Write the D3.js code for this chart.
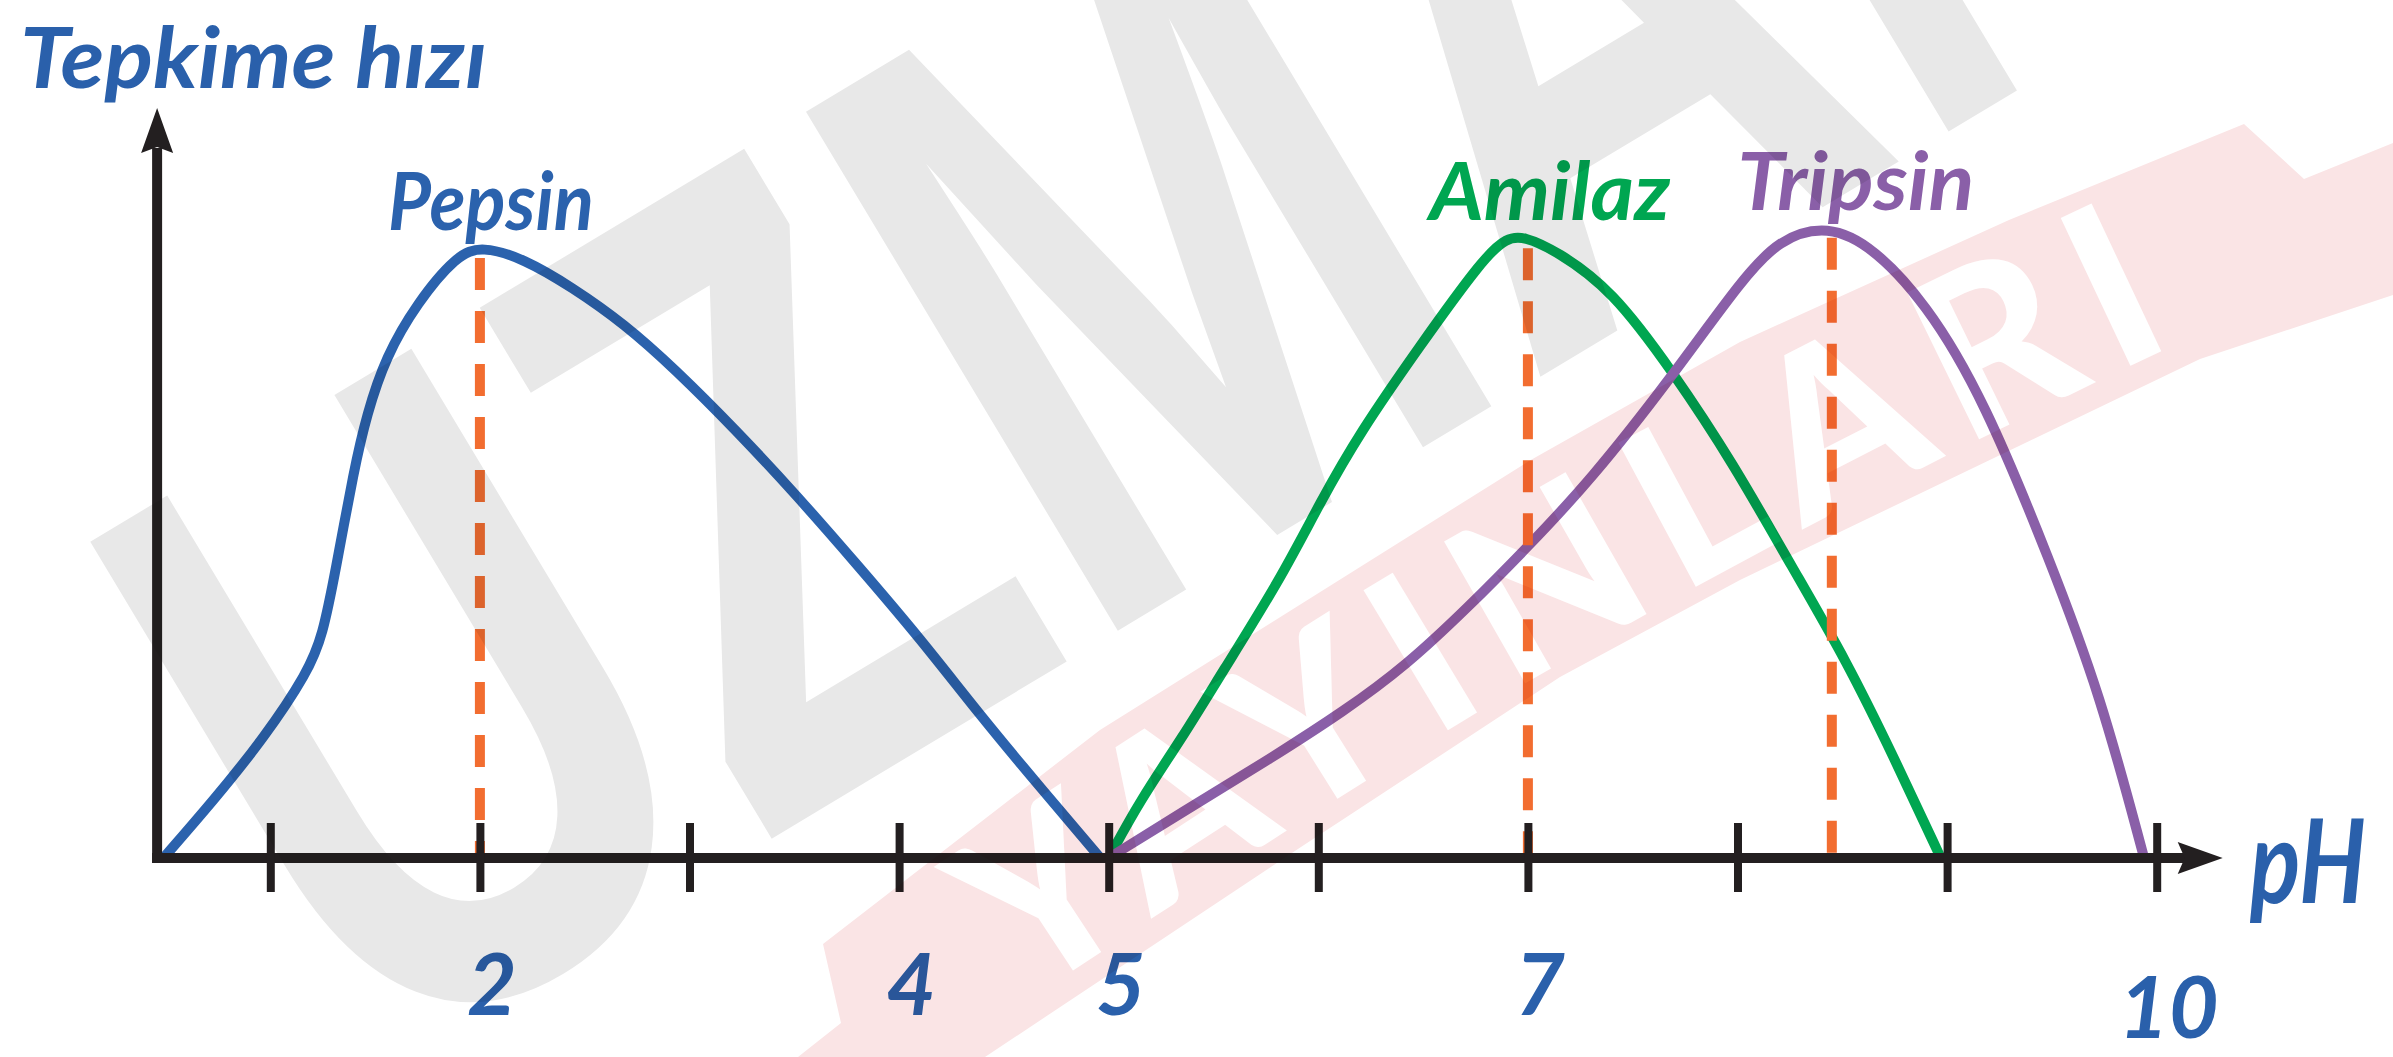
<!DOCTYPE html>
<html><head><meta charset="utf-8">
<script src="https://cdn.jsdelivr.net/npm/d3@7/dist/d3.min.js"></script>
<style>html,body{margin:0;padding:0;background:#fff;overflow:hidden}</style>
</head><body>
<svg id="chart" width="2393" height="1057"></svg>
<script>
// ---------- data ----------
const phTicks = [1, 2, 3, 4, 5, 6, 7, 8, 9, 10];
const phLabelValues = [2, 4, 5, 7, 10];
const phLabels = ["2", "4", "5", "7", "10"];
const yTitle = "Tepkime hızı";
const xTitle = "pH";
const enzymeNames = ["Pepsin", "Amilaz", "Tripsin"];
const optimumPH = [2, 7, 8.45];

const pepsinPH   = [0.49, 0.73, 0.97, 1.18, 1.25, 1.31, 1.40, 1.46, 1.55, 1.70, 1.89, 2.01, 2.21, 2.44, 2.69, 2.93, 3.22, 3.51, 3.80, 4.10, 4.39, 4.68, 4.96];
const pepsinRate = [0,    7.7,  16,   24.8, 29.7, 38.1, 51.9, 59.1, 66.8, 74,   80.4, 81.6, 79.9, 76.1, 71.2, 65.2, 57.1, 48.4, 39.1, 29.3, 18.9, 9.2,  0];

const amilazPH   = [5.00, 5.15, 5.35, 5.54, 5.82, 6.01, 6.20, 6.48, 6.79, 6.90, 6.98, 7.14, 7.40, 7.69, 7.98, 8.26, 8.52, 8.75, 8.97];
const amilazRate = [0,    7.7,  16,   24.7, 37.2, 47.5, 56.8, 68.1, 80.1, 82.7, 82.9, 80.9, 75.8, 64.9, 52.6, 38.8, 26.3, 13.2, 0];

const tripsinPH   = [5.00, 5.35, 5.74, 6.13, 6.42, 6.71, 7.00, 7.30, 7.68, 8.03, 8.20, 8.40, 8.61, 8.90, 9.18, 9.49, 9.73, 9.94];
const tripsinRate = [0,    6.1,  12.7, 19.7, 25.7, 33.3, 41.5, 50.4, 63.9, 77.5, 82.4, 84.3, 82.4, 74.1, 60.9, 39.7, 21.9, 0];

const watermarkBig = "UZMAN";
const watermarkBand = "YAYINLARI";

// ---------- drawing ----------
const svg = d3.select("#chart");
const x = d3.scaleLinear().domain([0, 10]).range([60.7, 2156.7]);
const y = d3.scaleLinear().domain([0, 100]).range([858, 108]);
const ink = "#231f20";
const blue = "#2a60ab";
const colors = ["#2b62ad", "#00a651", "#8a5fa8"];
const orange = "#f26d30";
const font = "Lato, 'Open Sans', sans-serif";

const series = [
  { name: enzymeNames[0], pts: d3.zip(pepsinPH, pepsinRate) },
  { name: enzymeNames[1], pts: d3.zip(amilazPH, amilazRate) },
  { name: enzymeNames[2], pts: d3.zip(tripsinPH, tripsinRate) }
];

const x0 = x(0.46), y0 = y(0);

// curves
const line = d3.line().x(d => x(d[0])).y(d => y(d[1])).curve(d3.curveBasis);
svg.append("g").selectAll("path").data(series).join("path")
  .attr("d", d => line(d.pts))
  .attr("fill", "none")
  .attr("stroke", (d, i) => colors[i])
  .attr("stroke-width", 10)
  .attr("stroke-linecap", "round")
  .attr("stroke-linejoin", "round");

// optimum dashed lines
svg.append("g").selectAll("line").data(series).join("line")
  .attr("x1", (d, i) => x(optimumPH[i]))
  .attr("x2", (d, i) => x(optimumPH[i]))
  .attr("y1", d => y(d3.max(d.pts, p => p[1])) + 12)
  .attr("y2", y0 - 4)
  .attr("stroke", orange)
  .attr("stroke-width", 10)
  .attr("stroke-dasharray", "32 21");

// enzyme labels
const labelDx = [11, 22, 24];
svg.append("g").selectAll("text").data(series).join("text")
  .attr("x", (d, i) => x(optimumPH[i]) + labelDx[i])
  .attr("y", d => y(d3.max(d.pts, p => p[1])) - 16)
  .attr("text-anchor", "middle")
  .attr("font-family", font)
  .attr("font-style", "italic")
  .attr("font-weight", 700)
  .attr("font-size", 80)
  .attr("fill", (d, i) => colors[i])
  .attr("textLength", (d, i) => [206, 241, 237][i])
  .attr("lengthAdjust", "spacingAndGlyphs")
  .text(d => d.name);

// axes
const axisG = svg.append("g");
axisG.append("line")
  .attr("x1", x0).attr("x2", x0)
  .attr("y1", y0 + 5).attr("y2", y(100) + 40)
  .attr("stroke", ink).attr("stroke-width", 10);
axisG.append("path")
  .attr("d", `M${x0},${y(100)} L${x0 + 16},${y(100) + 45} L${x0},${y(100) + 39} L${x0 - 16},${y(100) + 45} Z`)
  .attr("fill", ink);
const xEnd = x(10) + 66;
axisG.append("line")
  .attr("x1", x0 - 5).attr("x2", xEnd - 36)
  .attr("y1", y0).attr("y2", y0)
  .attr("stroke", ink).attr("stroke-width", 10);
axisG.append("path")
  .attr("d", `M${xEnd},${y0} L${xEnd - 45},${y0 - 16} L${xEnd - 38},${y0} L${xEnd - 45},${y0 + 16} Z`)
  .attr("fill", ink);

const xAxis = d3.axisBottom(x).tickValues(phTicks).tickSize(0).tickFormat("");
const tickG = svg.append("g").attr("transform", `translate(0,${y0})`).call(xAxis);
tickG.select(".domain").remove();
tickG.selectAll(".tick line")
  .attr("y1", -35).attr("y2", 34)
  .attr("stroke", ink).attr("stroke-width", 8);

// tick labels
svg.append("g").selectAll("text").data(phLabelValues).join("text")
  .attr("x", d => x(d) + 12)
  .attr("y", (d, i) => y0 + (i === phLabelValues.length - 1 ? 180 : 157))
  .attr("text-anchor", "middle")
  .attr("font-family", font)
  .attr("font-style", "italic")
  .attr("font-weight", 700)
  .attr("font-size", 86)
  .attr("fill", blue)
  .text((d, i) => phLabels[i]);

// axis titles
svg.append("text")
  .attr("x", 20).attr("y", 88)
  .attr("font-family", font).attr("font-style", "italic").attr("font-weight", 700)
  .attr("font-size", 84).attr("fill", blue)
  .attr("textLength", 467).attr("lengthAdjust", "spacingAndGlyphs")
  .text(yTitle);
svg.append("text")
  .attr("x", 2250).attr("y", 903)
  .attr("font-family", font).attr("font-style", "italic").attr("font-weight", 700)
  .attr("font-size", 116).attr("fill", blue)
  .attr("textLength", 116).attr("lengthAdjust", "spacingAndGlyphs")
  .text(xTitle);

// ---------- watermark (multiplied on top) ----------
const wm = svg.append("g").style("mix-blend-mode", "multiply").attr("pointer-events", "none");
wm.append("text")
  .attr("transform", "translate(370,1080) rotate(-31)")
  .attr("font-family", "'Liberation Sans', Arial, sans-serif")
  .attr("font-weight", 700)
  .attr("font-size", 880)
  .attr("fill", "#e8e8e8")
  .attr("textLength", 2250)
  .attr("lengthAdjust", "spacingAndGlyphs")
  .text(watermarkBig);

const band = wm.append("g");
const bandPts = [[798,1057],[841,1023],[823,944],[1100,730],[1274,621],[1529,461],[1740,342],[2009,220],[2244,124],[2304,179],[2393,143],[2393,295],[2200,359],[1740,580],[1560,677],[1304,845],[985,1057]];
band.append("path")
  .attr("d", d3.line()(bandPts) + "Z")
  .attr("fill", "#fae4e5");
const bandBase = [[930,1060],[1077,968],[1592,645],[2151,356],[2300,293]];
band.append("path")
  .attr("id", "bandBase")
  .attr("d", d3.line().curve(d3.curveNatural)(bandBase))
  .attr("fill", "none");
band.append("text")
  .attr("font-family", font)
  .attr("font-weight", 900)
  .attr("font-size", 225)
  .attr("letter-spacing", 22)
  .attr("fill", "#ffffff")
  .append("textPath")
  .attr("href", "#bandBase")
  .attr("startOffset", "50%")
  .attr("text-anchor", "middle")
  .text(watermarkBand);
</script>
</body></html>
